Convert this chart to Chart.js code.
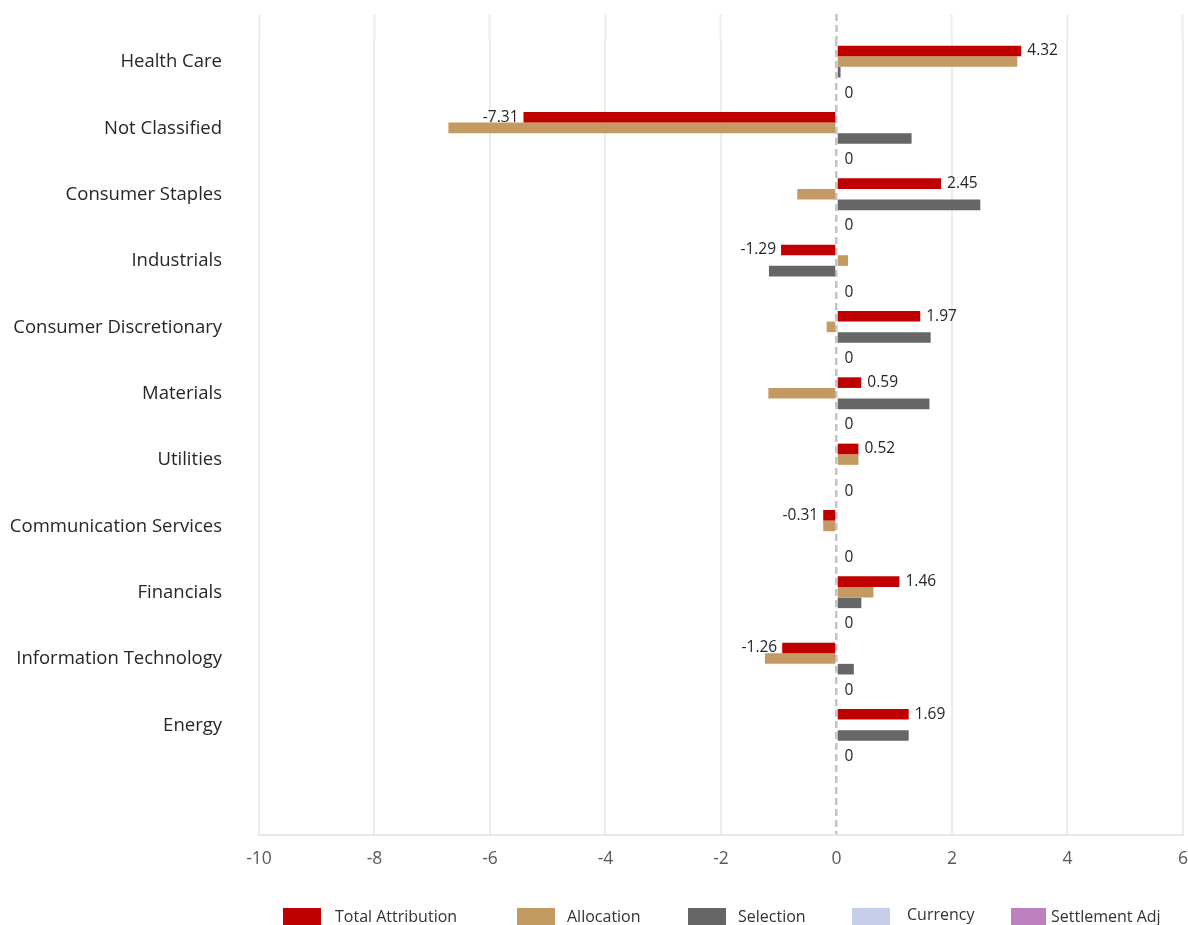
<!DOCTYPE html>
<html>
<head>
<meta charset="utf-8">
<script src="https://cdn.jsdelivr.net/npm/chart.js@4"></script>
<style>
  html, body { margin: 0; padding: 0; background: #ffffff; overflow: hidden; }
  #wrap { position: relative; width: 1188px; height: 925px; }
</style>
</head>
<body>
<div id="wrap"><canvas id="chart"></canvas></div>
<script>
// ---- data ----
const categories = [
  'Health Care', 'Not Classified', 'Consumer Staples', 'Industrials',
  'Consumer Discretionary', 'Materials', 'Utilities', 'Communication Services',
  'Financials', 'Information Technology', 'Energy', ''
];
const seriesNames = ['Total Attribution', 'Allocation', 'Selection', 'Currency', 'Settlement Adj'];
const totalAttribution = [3.20, -5.42, 1.81, -0.96, 1.45, 0.43, 0.38, -0.23, 1.09, -0.94, 1.25];
const allocation       = [3.13, -6.72, -0.68, 0.20, -0.17, -1.18, 0.38, -0.23, 0.64, -1.24, 0];
const selection        = [0.07, 1.30, 2.49, -1.17, 1.63, 1.61, 0, 0, 0.43, 0.30, 1.25];
const currency         = [0, 0, 0, 0, 0, 0, 0, 0, 0, 0, 0];
const settlementAdj    = [0, 0, 0, 0, 0, 0, 0, 0, 0, 0, 0];
const totalLabels      = [4.32, -7.31, 2.45, -1.29, 1.97, 0.59, 0.52, -0.31, 1.46, -1.26, 1.69];
const settlementLabels = [0, 0, 0, 0, 0, 0, 0, 0, 0, 0, 0];
const xMin = -10, xMax = 6, xStep = 2;

const colors = ['#c00000', '#c49a63', '#666666', '#c7cee9', '#be80be'];
const FONT = '"Open Sans", "Noto Sans", sans-serif';

// value labels at bar ends
const valueLabelPlugin = {
  id: 'valueLabels',
  afterDatasetsDraw(chart) {
    const ctx = chart.ctx;
    ctx.save();
    ctx.font = '15.5px ' + FONT;
    ctx.fillStyle = '#262626';
    ctx.textBaseline = 'middle';
    const drawFor = (dsIndex, texts) => {
      const meta = chart.getDatasetMeta(dsIndex);
      const data = chart.data.datasets[dsIndex].data;
      meta.data.forEach((bar, i) => {
        if (texts[i] === undefined || texts[i] === null) return;
        const v = data[i];
        const t = String(texts[i]);
        if (v < 0) {
          ctx.textAlign = 'right';
          ctx.fillText(t, bar.x - 5, bar.y);
        } else {
          ctx.textAlign = 'left';
          ctx.fillText(t, bar.x + (v === 0 ? 8 : 6), bar.y);
        }
      });
    };
    drawFor(0, totalLabels);
    drawFor(4, settlementLabels);
    ctx.restore();
  }
};

// legend drawn in a row under the axis (layout of entries only)
const legendLayout = [
  { box: 283, text: 335, w: 38, y: 917 },
  { box: 517, text: 567, w: 38, y: 917 },
  { box: 688, text: 738, w: 38, y: 917 },
  { box: 852, text: 907, w: 38, y: 915 },
  { box: 1011, text: 1051, w: 35, y: 917 }
];
const rowLegendPlugin = {
  id: 'rowLegend',
  afterDraw(chart) {
    const ctx = chart.ctx;
    ctx.save();
    ctx.font = '16px ' + FONT;
    ctx.textBaseline = 'middle';
    ctx.textAlign = 'left';
    chart.data.datasets.forEach((ds, k) => {
      const L = legendLayout[k];
      if (!L) return;
      ctx.fillStyle = ds.backgroundColor;
      ctx.fillRect(L.box, 908, L.w, 18);
      ctx.fillStyle = '#333333';
      ctx.fillText(ds.label, L.text, L.y);
    });
    ctx.restore();
  }
};

const seriesData = [totalAttribution, allocation, selection, currency, settlementAdj];

function build() {
  const isZero = c => c.tick && c.tick.value === 0;
  new Chart(document.getElementById('chart'), {
    type: 'bar',
    data: {
      labels: categories,
      datasets: seriesNames.map((name, k) => ({
        label: name,
        data: seriesData[k],
        backgroundColor: colors[k],
        borderWidth: 0,
        categoryPercentage: 0.8,
        barPercentage: 1.0
      }))
    },
    options: {
      indexAxis: 'y',
      responsive: true,
      maintainAspectRatio: false,
      animation: false,
      layout: { padding: { top: 14, left: 0, right: 0, bottom: 0 } },
      plugins: {
        tooltip: { enabled: false },
        legend: { display: false }
      },
      scales: {
        x: {
          type: 'linear',
          position: 'bottom',
          min: xMin, max: xMax,
          afterFit: s => { s.height = 90; },
          ticks: {
            stepSize: xStep,
            padding: 0,
            color: '#595959',
            font: { family: FONT, size: 17.5, lineHeight: 2.8 }
          },
          grid: {
            drawTicks: false,
            color: c => isZero(c) ? '#c3c3ca' : '#ebebf0',
            lineWidth: c => isZero(c) ? 2.5 : 2
          },
          border: {
            display: true,
            color: '#e6e6ec',
            width: 2,
            dash: c => isZero(c) ? [7, 4] : []
          }
        },
        x2: {
          type: 'linear',
          position: 'top',
          min: xMin, max: xMax,
          afterFit: s => { s.height = 25; },
          ticks: { display: false, stepSize: xStep },
          grid: {
            drawOnChartArea: false,
            drawTicks: true,
            tickLength: 25,
            tickColor: c => isZero(c) ? '#c3c3ca' : '#ebebf0',
            tickWidth: c => isZero(c) ? 2.5 : 2,
            tickBorderDash: c => isZero(c) ? [7, 4] : []
          },
          border: { display: false }
        },
        y: {
          type: 'category',
          position: 'left',
          afterFit: s => { s.width = 259; s.paddingTop = 0; s.paddingBottom = 0; },
          grid: { display: false },
          border: { display: false },
          ticks: {
            autoSkip: false,
            padding: 29,
            labelOffset: -10,
            color: '#262626',
            font: { family: FONT, size: 18.5 }
          }
        }
      }
    },
    plugins: [valueLabelPlugin, rowLegendPlugin]
  });
}

if (document.fonts && document.fonts.load) {
  Promise.all([
    document.fonts.load('16px "Open Sans"'),
    document.fonts.load('18px "Open Sans"')
  ]).then(build, build);
} else {
  build();
}
</script>
</body>
</html>
